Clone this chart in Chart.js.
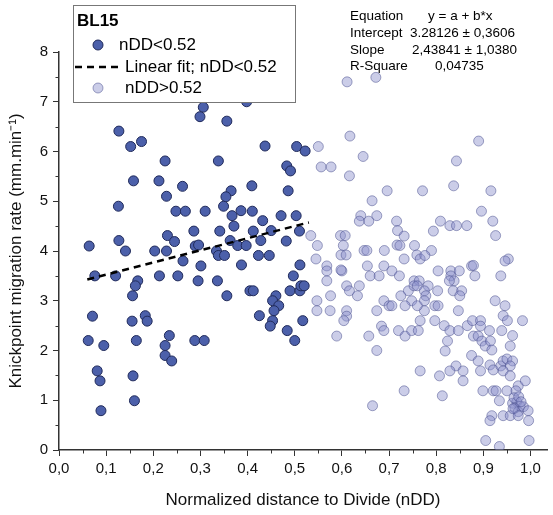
<!DOCTYPE html>
<html>
<head>
  <title>BL15 knickpoint migration</title>
  <script src="https://cdn.jsdelivr.net/npm/chart.js@4.4.0/dist/chart.umd.min.js"></script>
  <style>
    body { margin: 0; background: #fff; }
    #wrap { width: 553px; height: 515px; }
  </style>
</head>
<body>
<div id="wrap"><canvas id="c" width="553" height="515"></canvas></div>
<script>
  // nDD < 0.52 (dark markers)
  var lowX = [0.306, 0.299, 0.398, 0.356, 0.127, 0.152, 0.175, 0.437, 0.504, 0.522,
    0.225, 0.338, 0.483, 0.491, 0.158, 0.212, 0.262, 0.409, 0.365, 0.486,
    0.228, 0.354, 0.126, 0.349, 0.248, 0.268, 0.310, 0.386, 0.410, 0.367,
    0.471, 0.503, 0.432, 0.371, 0.286, 0.341, 0.412, 0.450, 0.510, 0.230,
    0.127, 0.245, 0.363, 0.428, 0.482, 0.064, 0.289, 0.296, 0.379, 0.397,
    0.141, 0.203, 0.228, 0.334, 0.338, 0.351, 0.263, 0.423, 0.446, 0.301,
    0.387, 0.511, 0.076, 0.120, 0.167, 0.162, 0.156, 0.213, 0.252, 0.295,
    0.336, 0.356, 0.405, 0.412, 0.497, 0.490, 0.511, 0.513, 0.520, 0.460,
    0.453, 0.466, 0.456, 0.425, 0.453, 0.448, 0.517, 0.484, 0.500, 0.071,
    0.155, 0.183, 0.187, 0.062, 0.095, 0.164, 0.234, 0.225, 0.225, 0.239,
    0.288, 0.308, 0.081, 0.087, 0.157, 0.160, 0.089];
  var lowY = [6.89, 6.70, 7.00, 6.61, 6.41, 6.10, 6.20, 6.11, 6.10, 6.01,
    5.81, 5.81, 5.71, 5.61, 5.41, 5.41, 5.30, 5.31, 5.21, 5.21,
    5.10, 5.09, 4.90, 4.90, 4.80, 4.80, 4.80, 4.81, 4.80, 4.71,
    4.71, 4.71, 4.61, 4.50, 4.40, 4.40, 4.40, 4.41, 4.40, 4.31,
    4.21, 4.19, 4.21, 4.21, 4.20, 4.10, 4.10, 4.12, 4.11, 4.11,
    4.00, 4.00, 4.00, 4.00, 3.91, 3.91, 3.80, 3.91, 3.91, 3.70,
    3.72, 3.72, 3.50, 3.50, 3.40, 3.30, 3.10, 3.50, 3.50, 3.40,
    3.40, 3.10, 3.20, 3.20, 3.50, 3.20, 3.20, 3.30, 3.30, 3.10,
    3.00, 2.90, 2.80, 2.70, 2.60, 2.49, 2.60, 2.40, 2.20, 2.69,
    2.59, 2.70, 2.59, 2.20, 2.10, 2.20, 2.30, 2.10, 1.90, 1.79,
    2.20, 2.20, 1.59, 1.39, 1.49, 0.99, 0.79];

  // nDD > 0.52 (light markers)
  var highX = [0.611, 0.672, 0.617, 0.890, 0.645, 0.843, 0.550, 0.556, 0.577, 0.616,
    0.696, 0.771, 0.837, 0.916, 0.664, 0.896, 0.640, 0.674, 0.637, 0.657,
    0.716, 0.809, 0.920, 0.829, 0.843, 0.865, 0.718, 0.794, 0.732, 0.926,
    0.534, 0.597, 0.607, 0.548, 0.603, 0.717, 0.723, 0.754, 0.647, 0.653,
    0.690, 0.790, 0.598, 0.609, 0.759, 0.732, 0.766, 0.776, 0.545, 0.953,
    0.946, 0.568, 0.568, 0.600, 0.598, 0.654, 0.660, 0.679, 0.689, 0.706,
    0.722, 0.753, 0.764, 0.783, 0.804, 0.831, 0.849, 0.831, 0.838, 0.828,
    0.875, 0.879, 0.882, 0.937, 0.568, 0.547, 0.547, 0.576, 0.575, 0.610,
    0.616, 0.637, 0.633, 0.610, 0.610, 0.604, 0.589, 0.657, 0.674, 0.684,
    0.689, 0.689, 0.700, 0.706, 0.674, 0.725, 0.741, 0.753, 0.760, 0.748,
    0.734, 0.775, 0.778, 0.775, 0.775, 0.760, 0.766, 0.720, 0.734, 0.748,
    0.762, 0.797, 0.804, 0.803, 0.797, 0.817, 0.829, 0.847, 0.824, 0.819,
    0.836, 0.854, 0.850, 0.847, 0.866, 0.877, 0.894, 0.879, 0.889, 0.897,
    0.894, 0.913, 0.904, 0.915, 0.918, 0.925, 0.946, 0.942, 0.951, 0.939,
    0.983, 0.962, 0.957, 0.875, 0.889, 0.914, 0.921, 0.937, 0.942, 0.950,
    0.962, 0.957, 0.942, 0.894, 0.842, 0.857, 0.829, 0.857, 0.766, 0.807,
    0.957, 0.974, 0.989, 0.969, 0.899, 0.921, 0.927, 0.950, 0.732, 0.813,
    0.934, 0.942, 0.918, 0.914, 0.962, 0.971, 0.978, 0.967, 0.974, 0.985,
    0.995, 0.996, 0.957, 0.974, 0.965, 0.975, 0.980, 0.963, 0.665, 0.905,
    0.934, 0.997];
  var highY = [7.40, 7.49, 6.31, 6.21, 5.90, 5.81, 6.10, 5.69, 5.69, 5.51,
    5.21, 5.21, 5.31, 5.21, 5.01, 4.80, 4.71, 4.71, 4.60, 4.60,
    4.60, 4.60, 4.60, 4.51, 4.51, 4.51, 4.41, 4.40, 4.30, 4.31,
    4.31, 4.31, 4.31, 4.11, 4.11, 4.12, 4.11, 4.11, 4.01, 4.01,
    4.01, 4.01, 3.92, 3.92, 3.92, 3.84, 3.84, 3.91, 3.84, 3.84,
    3.80, 3.70, 3.60, 3.60, 3.62, 3.70, 3.50, 3.50, 3.70, 3.60,
    3.50, 3.40, 3.40, 3.30, 3.60, 3.60, 3.60, 3.50, 3.40, 3.40,
    3.70, 3.71, 3.50, 3.50, 3.40, 3.00, 2.80, 3.10, 2.80, 3.30,
    3.20, 3.30, 3.10, 2.80, 2.69, 2.60, 2.29, 2.29, 2.80, 2.49,
    2.40, 3.00, 2.90, 2.90, 2.00, 3.10, 3.20, 3.30, 3.30, 3.00,
    2.90, 3.20, 3.10, 3.00, 2.80, 2.90, 2.60, 2.40, 2.29, 2.40,
    2.40, 2.90, 2.90, 3.20, 2.60, 2.50, 2.40, 2.40, 2.19, 1.99,
    3.20, 3.20, 3.10, 2.80, 2.50, 2.60, 2.60, 2.29, 2.29, 2.19,
    2.49, 2.40, 2.09, 2.19, 2.01, 3.00, 2.90, 2.70, 2.60, 2.40,
    2.60, 2.30, 2.09, 1.90, 1.79, 1.71, 1.61, 1.69, 1.79, 1.83,
    1.79, 1.69, 1.59, 1.59, 1.69, 1.59, 1.59, 1.39, 1.59, 1.49,
    1.49, 1.29, 1.39, 1.19, 1.19, 1.19, 1.19, 1.19, 1.19, 1.09,
    0.99, 0.69, 0.69, 0.59, 0.94, 0.97, 0.88, 0.84, 0.77, 0.87,
    0.79, 0.59, 0.69, 0.69, 1.05, 1.07, 0.97, 0.83, 0.89, 0.19,
    0.07, 0.19];

  // linear fit on nDD<0.52, as printed in the figure
  var fitA = 3.28126;
  var fitB = 2.43841;
  var fitRange = [0.06, 0.53];

  var eqLabels = ['Equation', 'Intercept', 'Slope', 'R-Square'];
  var eqValues = ['y = a + b*x', '3.28126 \u00b1 0,3606', '2,43841 \u00b1 1,0380', '0,04735'];

  var FONT = "'Liberation Sans', Arial, sans-serif";
  var DARK_FILL = 'rgb(76,96,170)';
  var DARK_EDGE = 'rgb(32,42,90)';
  var LIGHT_FILL = 'rgba(140,145,205,0.45)';
  var LIGHT_EDGE = 'rgba(70,75,140,0.5)';

  function toPoints(xs, ys) {
    return xs.map(function (x, i) { return { x: x, y: ys[i] }; });
  }

  var fitPoints = fitRange.map(function (x) { return { x: x, y: fitA + fitB * x }; });

  // minor ticks + legend box + equation text
  var decor = {
    id: 'decor',
    afterDraw: function (chart) {
      var ctx = chart.ctx;
      var xs = chart.scales.x, ys = chart.scales.y;
      var area = chart.chartArea;
      ctx.save();
      ctx.strokeStyle = '#333';
      ctx.lineWidth = 1;
      ctx.beginPath();
      for (var v = 0.05; v < 1.03; v += 0.1) {
        var px = Math.round(xs.getPixelForValue(v)) + 0.5;
        ctx.moveTo(px, area.bottom);
        ctx.lineTo(px, area.bottom + 3.5);
      }
      for (var w = 0.5; w < 8; w += 1) {
        var py = Math.round(ys.getPixelForValue(w)) + 0.5;
        ctx.moveTo(area.left, py);
        ctx.lineTo(area.left - 3.5, py);
      }
      ctx.stroke();

      // legend
      ctx.fillStyle = '#fff';
      ctx.fillRect(73, 5, 222, 97);
      ctx.strokeStyle = '#777';
      ctx.strokeRect(73.5, 5.5, 222, 97);
      ctx.fillStyle = '#000';
      ctx.textBaseline = 'middle';
      ctx.textAlign = 'left';
      ctx.font = 'bold 17px ' + FONT;
      ctx.fillText('BL15', 77, 21);
      ctx.font = '17px ' + FONT;

      ctx.beginPath();
      ctx.arc(98, 45, 5, 0, Math.PI * 2);
      ctx.fillStyle = DARK_FILL; ctx.fill();
      ctx.strokeStyle = DARK_EDGE; ctx.stroke();
      ctx.fillStyle = '#000';
      ctx.fillText(chart.data.datasets[0].label, 119, 45);

      ctx.beginPath();
      ctx.setLineDash([7, 5]);
      ctx.lineWidth = 2.5;
      ctx.strokeStyle = '#000';
      ctx.moveTo(75, 67); ctx.lineTo(123, 67);
      ctx.stroke();
      ctx.setLineDash([]);
      ctx.lineWidth = 1;
      ctx.fillText(chart.data.datasets[1].label, 125, 67);

      ctx.beginPath();
      ctx.arc(98, 88, 5, 0, Math.PI * 2);
      ctx.fillStyle = LIGHT_FILL; ctx.fill();
      ctx.strokeStyle = LIGHT_EDGE; ctx.stroke();
      ctx.fillStyle = '#000';
      ctx.fillText(chart.data.datasets[2].label, 125, 88);

      // equation table
      ctx.font = '13.5px ' + FONT;
      var valX = [428, 410, 412, 435];
      for (var i = 0; i < eqLabels.length; i++) {
        var yy = 16 + i * 16.9;
        ctx.fillText(eqLabels[i], 350, yy);
        ctx.fillText(eqValues[i], valX[i], yy);
      }
      ctx.restore();
    }
  };

  new Chart(document.getElementById('c'), {
    type: 'scatter',
    data: {
      datasets: [
        {
          label: 'nDD<0.52',
          data: toPoints(lowX, lowY),
          backgroundColor: DARK_FILL,
          borderColor: DARK_EDGE,
          borderWidth: 1,
          pointRadius: 5,
          order: 2
        },
        {
          label: 'Linear fit; nDD<0.52',
          type: 'line',
          data: fitPoints,
          borderColor: '#000',
          borderWidth: 2.5,
          borderDash: [7, 5],
          pointRadius: 0,
          fill: false,
          order: 0
        },
        {
          label: 'nDD>0.52',
          data: toPoints(highX, highY),
          backgroundColor: LIGHT_FILL,
          borderColor: LIGHT_EDGE,
          borderWidth: 1,
          pointRadius: 5,
          order: 1
        }
      ]
    },
    options: {
      responsive: false,
      animation: false,
      layout: { padding: { top: 52, right: 6, left: 0, bottom: 0 } },
      plugins: { legend: { display: false }, tooltip: { enabled: false } },
      scales: {
        x: {
          type: 'linear',
          min: 0, max: 1.035,
          afterFit: function (s) { s.height = 65; },
          border: { display: true, color: '#333', width: 1.5 },
          grid: { drawOnChartArea: false, tickLength: 6, tickColor: '#333' },
          ticks: {
            stepSize: 0.1, includeBounds: false, autoSkip: false, maxRotation: 0,
            color: '#111', padding: 4,
            font: { family: FONT, size: 15 },
            callback: function (v) { return v.toFixed(1).replace('.', ','); }
          },
          title: {
            display: true, text: 'Normalized distance to Divide (nDD)',
            color: '#111', font: { family: FONT, size: 17 }, padding: { top: 6 }
          }
        },
        y: {
          type: 'linear',
          min: 0, max: 8,
          afterFit: function (s) { s.width = 59; },
          border: { display: true, color: '#333', width: 1.5 },
          grid: { drawOnChartArea: false, tickLength: 6, tickColor: '#333' },
          ticks: {
            stepSize: 1, color: '#111', padding: 5,
            font: { family: FONT, size: 15 }
          },
          title: {
            display: true, text: 'Knickpoint migration rate (mm.min\u207b\u00b9)',
            color: '#111', font: { family: FONT, size: 17 }, padding: { top: 6, bottom: 0 }
          }
        }
      }
    },
    plugins: [decor]
  });
</script>
</body>
</html>
